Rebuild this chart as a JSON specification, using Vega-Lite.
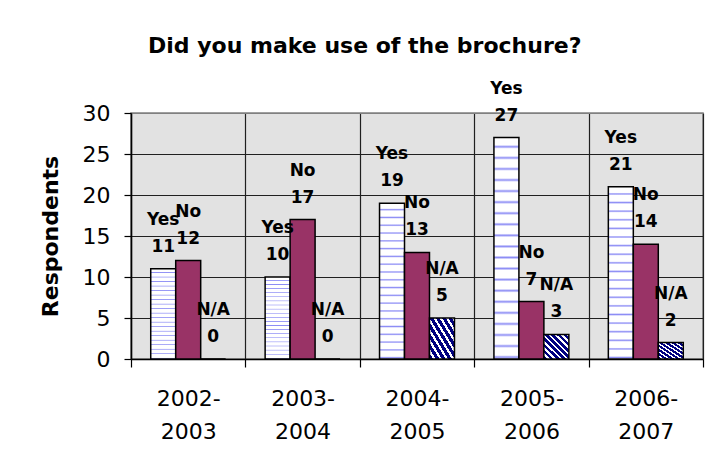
{
  "$schema": "https://vega.github.io/schema/vega-lite/v6.json",
  "width": 572,
  "height": 246,
  "autosize": "none",
  "padding": {"left": 131, "top": 113, "right": 5, "bottom": 102},
  "background": "white",
  "config": {
    "view": {"fill": "#e2e2e2", "stroke": "#808080", "strokeWidth": 1.5},
    "text": {"font": "DejaVu Sans"}
  },
  "title": {
    "text": "Did you make use of the brochure?",
    "font": "DejaVu Sans",
    "fontSize": 22,
    "fontWeight": "bold",
    "color": "black",
    "anchor": "start",
    "frame": "group",
    "dx": 17,
    "offset": 22
  },
  "data": {
    "values": [
      {"year": "2002-2003", "series": "Yes", "value": 11},
      {"year": "2002-2003", "series": "No", "value": 12},
      {"year": "2002-2003", "series": "N/A", "value": 0},
      {"year": "2003-2004", "series": "Yes", "value": 10},
      {"year": "2003-2004", "series": "No", "value": 17},
      {"year": "2003-2004", "series": "N/A", "value": 0},
      {"year": "2004-2005", "series": "Yes", "value": 19},
      {"year": "2004-2005", "series": "No", "value": 13},
      {"year": "2004-2005", "series": "N/A", "value": 5},
      {"year": "2005-2006", "series": "Yes", "value": 27},
      {"year": "2005-2006", "series": "No", "value": 7},
      {"year": "2005-2006", "series": "N/A", "value": 3},
      {"year": "2006-2007", "series": "Yes", "value": 21},
      {"year": "2006-2007", "series": "No", "value": 14},
      {"year": "2006-2007", "series": "N/A", "value": 2}
    ]
  },
  "encoding": {
    "x": {
      "field": "year",
      "type": "nominal",
      "sort": null,
      "scale": {"paddingInner": 0, "paddingOuter": 0},
      "axis": {
        "title": null,
        "labelAngle": 0,
        "tickBand": "extent",
        "grid": true,
        "gridColor": "#202020",
        "gridWidth": 1.2,
        "gridOpacity": 1,
        "tickSize": 8,
        "tickColor": "black",
        "tickWidth": 1.2,
        "domainColor": "black",
        "domainWidth": 1.5,
        "labelFont": "DejaVu Sans",
        "labelFontSize": 22,
        "labelColor": "black",
        "labelPadding": 21,
        "labelBaseline": "top",
        "labelLineHeight": 33,
        "labelExpr": "[slice(datum.label, 0, 5), slice(datum.label, 5)]"
      }
    },
    "xOffset": {
      "field": "series",
      "type": "nominal",
      "sort": ["Yes", "No", "N/A"],
      "scale": {"paddingInner": 0, "paddingOuter": 0.79}
    },
    "y": {
      "field": "value",
      "type": "quantitative",
      "scale": {"domain": [0, 30], "nice": false},
      "axis": {
        "values": [0, 5, 10, 15, 20, 25, 30],
        "title": "Respondents",
        "titleFont": "DejaVu Sans",
        "titleFontSize": 22,
        "titleFontWeight": "bold",
        "titleColor": "black",
        "titlePadding": 20,
        "labelFont": "DejaVu Sans",
        "labelFontSize": 22,
        "labelColor": "black",
        "labelPadding": 14,
        "tickSize": 7,
        "tickColor": "black",
        "tickWidth": 1.2,
        "domainColor": "black",
        "domainWidth": 1.5,
        "grid": true,
        "gridOpacity": 1,
        "gridWidth": 1.2,
        "gridColor": {"condition": {"test": "datum.value === 30", "value": "#808080"}, "value": "#202020"}
      }
    }
  },
  "layer": [
    {
      "mark": {"type": "bar", "stroke": "black", "strokeWidth": 1.5},
      "encoding": {
        "fill": {
          "condition": [
            {
              "test": "datum.series === 'Yes'",
              "value": {
                "gradient": "linear", "x1": 0, "y1": 0, "x2": 0, "y2": 1,
                "stops": [
                  {"offset": 0, "color": "#ffffff"},
                  {"offset": 0.033, "color": "#ffffff"}, {"offset": 0.0415, "color": "#8c8cf5"}, {"offset": 0.05, "color": "#ffffff"},
                  {"offset": 0.083, "color": "#ffffff"}, {"offset": 0.0915, "color": "#8c8cf5"}, {"offset": 0.1, "color": "#ffffff"},
                  {"offset": 0.133, "color": "#ffffff"}, {"offset": 0.1415, "color": "#8c8cf5"}, {"offset": 0.15, "color": "#ffffff"},
                  {"offset": 0.183, "color": "#ffffff"}, {"offset": 0.1915, "color": "#8c8cf5"}, {"offset": 0.2, "color": "#ffffff"},
                  {"offset": 0.233, "color": "#ffffff"}, {"offset": 0.2415, "color": "#8c8cf5"}, {"offset": 0.25, "color": "#ffffff"},
                  {"offset": 0.283, "color": "#ffffff"}, {"offset": 0.2915, "color": "#8c8cf5"}, {"offset": 0.3, "color": "#ffffff"},
                  {"offset": 0.333, "color": "#ffffff"}, {"offset": 0.3415, "color": "#8c8cf5"}, {"offset": 0.35, "color": "#ffffff"},
                  {"offset": 0.383, "color": "#ffffff"}, {"offset": 0.3915, "color": "#8c8cf5"}, {"offset": 0.4, "color": "#ffffff"},
                  {"offset": 0.433, "color": "#ffffff"}, {"offset": 0.4415, "color": "#8c8cf5"}, {"offset": 0.45, "color": "#ffffff"},
                  {"offset": 0.483, "color": "#ffffff"}, {"offset": 0.4915, "color": "#8c8cf5"}, {"offset": 0.5, "color": "#ffffff"},
                  {"offset": 0.533, "color": "#ffffff"}, {"offset": 0.5415, "color": "#8c8cf5"}, {"offset": 0.55, "color": "#ffffff"},
                  {"offset": 0.583, "color": "#ffffff"}, {"offset": 0.5915, "color": "#8c8cf5"}, {"offset": 0.6, "color": "#ffffff"},
                  {"offset": 0.633, "color": "#ffffff"}, {"offset": 0.6415, "color": "#8c8cf5"}, {"offset": 0.65, "color": "#ffffff"},
                  {"offset": 0.683, "color": "#ffffff"}, {"offset": 0.6915, "color": "#8c8cf5"}, {"offset": 0.7, "color": "#ffffff"},
                  {"offset": 0.733, "color": "#ffffff"}, {"offset": 0.7415, "color": "#8c8cf5"}, {"offset": 0.75, "color": "#ffffff"},
                  {"offset": 0.783, "color": "#ffffff"}, {"offset": 0.7915, "color": "#8c8cf5"}, {"offset": 0.8, "color": "#ffffff"},
                  {"offset": 0.833, "color": "#ffffff"}, {"offset": 0.8415, "color": "#8c8cf5"}, {"offset": 0.85, "color": "#ffffff"},
                  {"offset": 0.883, "color": "#ffffff"}, {"offset": 0.8915, "color": "#8c8cf5"}, {"offset": 0.9, "color": "#ffffff"},
                  {"offset": 0.933, "color": "#ffffff"}, {"offset": 0.9415, "color": "#8c8cf5"}, {"offset": 0.95, "color": "#ffffff"},
                  {"offset": 0.983, "color": "#ffffff"}, {"offset": 0.9915, "color": "#8c8cf5"}, {"offset": 1, "color": "#ffffff"}
                ]
              }
            },
            {
              "test": "datum.series === 'N/A'",
              "value": {
                "gradient": "linear", "x1": 0, "y1": 1, "x2": 1, "y2": 0,
                "stops": [
                  {"offset": 0, "color": "#000080"}, {"offset": 0.075, "color": "#000080"}, {"offset": 0.075, "color": "#ffffff"}, {"offset": 0.125, "color": "#ffffff"},
                  {"offset": 0.125, "color": "#000080"}, {"offset": 0.2, "color": "#000080"}, {"offset": 0.2, "color": "#ffffff"}, {"offset": 0.25, "color": "#ffffff"},
                  {"offset": 0.25, "color": "#000080"}, {"offset": 0.325, "color": "#000080"}, {"offset": 0.325, "color": "#ffffff"}, {"offset": 0.375, "color": "#ffffff"},
                  {"offset": 0.375, "color": "#000080"}, {"offset": 0.45, "color": "#000080"}, {"offset": 0.45, "color": "#ffffff"}, {"offset": 0.5, "color": "#ffffff"},
                  {"offset": 0.5, "color": "#000080"}, {"offset": 0.575, "color": "#000080"}, {"offset": 0.575, "color": "#ffffff"}, {"offset": 0.625, "color": "#ffffff"},
                  {"offset": 0.625, "color": "#000080"}, {"offset": 0.7, "color": "#000080"}, {"offset": 0.7, "color": "#ffffff"}, {"offset": 0.75, "color": "#ffffff"},
                  {"offset": 0.75, "color": "#000080"}, {"offset": 0.825, "color": "#000080"}, {"offset": 0.825, "color": "#ffffff"}, {"offset": 0.875, "color": "#ffffff"},
                  {"offset": 0.875, "color": "#000080"}, {"offset": 0.95, "color": "#000080"}, {"offset": 0.95, "color": "#ffffff"}, {"offset": 1, "color": "#ffffff"}
                ]
              }
            }
          ],
          "value": "#993366"
        }
      }
    },
    {
      "mark": {"type": "text", "font": "DejaVu Sans", "fontSize": 17, "fontWeight": "bold", "color": "black", "baseline": "middle", "dy": -22},
      "encoding": {"text": {"field": "value", "type": "quantitative"}}
    },
    {
      "mark": {"type": "text", "font": "DejaVu Sans", "fontSize": 17, "fontWeight": "bold", "color": "black", "baseline": "middle", "dy": -49},
      "encoding": {"text": {"field": "series", "type": "nominal"}}
    }
  ]
}
